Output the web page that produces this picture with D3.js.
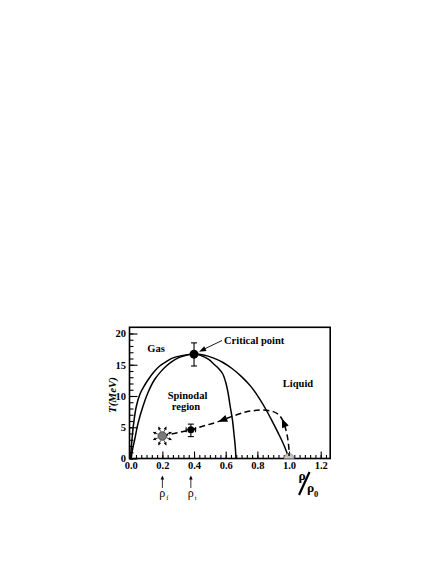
<!DOCTYPE html>
<html><head><meta charset="utf-8">
<script src="https://cdn.jsdelivr.net/npm/d3@7"></script>
<style>
html,body{margin:0;padding:0;background:#fff;}
svg text{font-family:"Liberation Serif","Times New Roman",serif;}
</style></head>
<body>
<svg id="chart" width="442" height="571"></svg>
<script>
// ---- data ----
const binodal = [[0,0],[0.003,1.5],[0.008,3],[0.018,5.5],[0.036,8.4],[0.06,10.4],[0.09,11.8],[0.11,12.6],[0.145,13.8],[0.183,14.8],[0.225,15.5],[0.267,16.1],[0.33,16.5],[0.4,16.7],[0.46,16.55],[0.52,16.1],[0.58,15.4],[0.64,14.4],[0.7,13.1],[0.76,11.5],[0.81,9.7],[0.855,7.8],[0.895,5.9],[0.935,3.9],[0.97,2.0],[1.0,0]];
const spinodal = [[0.003,0],[0.012,1.5],[0.025,3],[0.045,5.5],[0.078,8.4],[0.11,10.6],[0.15,12.6],[0.19,13.9],[0.225,14.8],[0.26,15.5],[0.3,16.1],[0.35,16.5],[0.4,16.7],[0.44,16.5],[0.49,15.9],[0.53,15.0],[0.555,14.4],[0.58,13.6],[0.6,12.2],[0.615,10.5],[0.628,8.4],[0.642,6.3],[0.652,4],[0.66,2],[0.665,0]];
const trajectory = [[0.2,3.6],[0.38,4.6],[0.46,5.2],[0.553,5.9],[0.648,6.8],[0.72,7.4],[0.775,7.65],[0.84,7.75],[0.9,7.5],[0.935,7.0],[0.96,6.1],[0.98,4.6],[0.993,3],[1.0,1.2],[1.0,0.4]];
const trajectoryArrows = [[0.553,5.9,0.6,6.35],[0.955,6.4,0.965,5.8]]; // tip x,T then a point behind it
const criticalPoint = {x:0.4, T:16.7, Tlo:14.8, Thi:18.5};
const breakupPoint = {x:0.38, T:4.6, xlo:0.35, xhi:0.41, Tlo:3.5, Thi:5.5};
const freezeOut = {x:0.2, T:3.6};
const groundState = {x:1.0, T:0};
const xTicks = [0,0.2,0.4,0.6,0.8,1.0,1.2];
const xTickLabels = ["0.0","0.2","0.4","0.6","0.8","1.0","1.2"];
const yTicks = [0,5,10,15,20];
const yTickLabels = ["0","5","10","15","20"];
const densityMarks = [{x:0.2, sub:"f"},{x:0.38, sub:"t"}];

// ---- scales ----
const x = d3.scaleLinear().domain([0,1.2]).range([130.7,320.7]);
const y = d3.scaleLinear().domain([0,20]).range([458.5,333.5]);
const L = x(-0.0076), R = x(1.26), T = 327.3, B = y(0);

const svg = d3.select("#chart");
const g = svg.append("g");

// minor ticks
const xMinor = d3.range(0, 1.26, 0.2/6);
g.append("g").attr("transform",`translate(0,${B})`)
  .call(d3.axisBottom(x).tickValues(xMinor).tickSize(-3.5).tickFormat(""))
  .call(s=>s.select(".domain").remove());
g.append("g").attr("transform",`translate(${L},0)`)
  .call(d3.axisLeft(y).tickValues(d3.range(0,21,1)).tickSize(-4).tickFormat(""))
  .call(s=>s.select(".domain").remove());
// major ticks
g.append("g").attr("transform",`translate(0,${B})`)
  .call(d3.axisBottom(x).tickValues(xTicks).tickSize(-7).tickPadding(3.5)
    .tickFormat((d,i)=>xTickLabels[i]))
  .call(s=>s.select(".domain").remove())
  .call(s=>s.selectAll("text").attr("font-family","Liberation Serif").attr("font-weight","bold").attr("font-size",10.5).attr("fill","#000"));
g.append("g").attr("transform",`translate(${L},0)`)
  .call(d3.axisLeft(y).tickValues(yTicks).tickSize(-8).tickPadding(3.5)
    .tickFormat((d,i)=>yTickLabels[i]))
  .call(s=>s.select(".domain").remove())
  .call(s=>s.selectAll("text").attr("font-family","Liberation Serif").attr("font-weight","bold").attr("font-size",10.5).attr("fill","#000"));
g.selectAll(".tick line").attr("stroke","#000").attr("stroke-width",1.1);

// frame
g.append("rect").attr("x",L).attr("y",T).attr("width",R-L).attr("height",B-T)
  .attr("fill","none").attr("stroke","#000").attr("stroke-width",1.6);

const line = d3.line().x(d=>x(d[0])).y(d=>y(d[1])).curve(d3.curveCatmullRom.alpha(0.5));

g.append("path").attr("d",line(binodal)).attr("fill","none").attr("stroke","#000").attr("stroke-width",1.5);
g.append("path").attr("d",line(spinodal)).attr("fill","none").attr("stroke","#000").attr("stroke-width",1.5);

// ground state half disc
const gr = 5;
g.append("path")
  .attr("d",`M${x(groundState.x)-gr},${y(groundState.T)} A${gr},${gr} 0 0 1 ${x(groundState.x)+gr},${y(groundState.T)} Z`)
  .attr("fill","#c4c4c4").attr("stroke","#888").attr("stroke-width",0.8);

// trajectory dashed
g.append("path").attr("d",line(trajectory)).attr("fill","none").attr("stroke","#000")
  .attr("stroke-width",1.5).attr("stroke-dasharray","6,3.5");

// arrowheads
function arrowHead(px,py,bx,by,len,hw){
  const a = Math.atan2(py-by, px-bx);
  const c=Math.cos(a), s=Math.sin(a);
  const p1=[px-len*c+hw*s, py-len*s-hw*c], p2=[px-len*c-hw*s, py-len*s+hw*c];
  return `M${px},${py}L${p1[0]},${p1[1]}L${p2[0]},${p2[1]}Z`;
}
trajectoryArrows.forEach(a=>{
  g.append("path").attr("d",arrowHead(x(a[0]),y(a[1]),x(a[2]),y(a[3]),9,3.6)).attr("fill","#000");
});

// critical point with error bar
const cx=x(criticalPoint.x), cy=y(criticalPoint.T);
g.append("line").attr("x1",cx).attr("x2",cx).attr("y1",y(criticalPoint.Tlo)).attr("y2",y(criticalPoint.Thi)).attr("stroke","#000").attr("stroke-width",1.1);
[criticalPoint.Tlo,criticalPoint.Thi].forEach(v=>g.append("line").attr("x1",cx-3).attr("x2",cx+3).attr("y1",y(v)).attr("y2",y(v)).attr("stroke","#000").attr("stroke-width",1.1));
g.append("circle").attr("cx",cx).attr("cy",cy).attr("r",4.5).attr("fill","#000");

// breakup point with error bars
const bx=x(breakupPoint.x), by=y(breakupPoint.T);
g.append("line").attr("x1",bx).attr("x2",bx).attr("y1",y(breakupPoint.Tlo)).attr("y2",y(breakupPoint.Thi)).attr("stroke","#000").attr("stroke-width",1.1);
[breakupPoint.Tlo,breakupPoint.Thi].forEach(v=>g.append("line").attr("x1",bx-3).attr("x2",bx+3).attr("y1",y(v)).attr("y2",y(v)).attr("stroke","#000").attr("stroke-width",1.1));
g.append("line").attr("x1",x(breakupPoint.xlo)).attr("x2",x(breakupPoint.xhi)).attr("y1",by).attr("y2",by).attr("stroke","#000").attr("stroke-width",1.1);
[breakupPoint.xlo,breakupPoint.xhi].forEach(v=>g.append("line").attr("x1",x(v)).attr("x2",x(v)).attr("y1",by-2.5).attr("y2",by+2.5).attr("stroke","#000").attr("stroke-width",1.1));
g.append("circle").attr("cx",bx).attr("cy",by).attr("r",3.5).attr("fill","#000");

// freeze-out star: gray disc with radiating arrows
const sx=x(freezeOut.x), sy=y(freezeOut.T);
d3.range(8).forEach(i=>{
  const a = i*Math.PI/4 + Math.PI/8;
  const x1=sx+5*Math.cos(a), y1=sy+5*Math.sin(a), x2=sx+10*Math.cos(a), y2=sy+10*Math.sin(a);
  g.append("line").attr("x1",x1).attr("y1",y1).attr("x2",x2).attr("y2",y2).attr("stroke","#000").attr("stroke-width",0.8);
  g.append("path").attr("d",arrowHead(x2,y2,x1,y1,2.8,1.6)).attr("fill","#000");
});
g.append("circle").attr("cx",sx).attr("cy",sy).attr("r",4.3).attr("fill","#7a7a7a").attr("stroke","#333").attr("stroke-width",0.8);

// labels
const lab = (t,px,py,anchor,size)=>g.append("text").attr("x",px).attr("y",py).attr("text-anchor",anchor||"middle")
    .attr("font-size",size||10.5).attr("font-weight","bold").attr("fill","#000").text(t);
lab("Gas",156,351.5);
lab("Critical point",224,344,"start");
lab("Liquid",298,387);
lab("Spinodal",187.5,398.5);
lab("region",186,409.5);

// critical point pointer arrow
g.append("line").attr("x1",222).attr("y1",340.5).attr("x2",cx+9).attr("y2",cy-4.5).attr("stroke","#000").attr("stroke-width",0.9);
g.append("path").attr("d",arrowHead(cx+5,cy-2.5,222,340.5,7,2.6)).attr("fill","#000");

// y axis title
g.append("text").attr("transform","translate(116,395) rotate(-90)").attr("text-anchor","middle")
  .attr("font-size",11).attr("font-weight","bold").attr("font-style","italic").text("T(MeV)");

// rho / rho0
g.append("text").attr("x",302).attr("y",480).attr("text-anchor","middle").attr("font-size",13.5).attr("font-weight","bold").text("ρ");
g.append("line").attr("x1",299).attr("y1",495).attr("x2",309.5).attr("y2",472).attr("stroke","#000").attr("stroke-width",2.2);
g.append("text").attr("x",310.5).attr("y",491.5).attr("text-anchor","middle").attr("font-size",13.5).attr("font-weight","bold").text("ρ");
g.append("text").attr("x",314).attr("y",496.5).attr("text-anchor","start").attr("font-size",8.5).attr("font-weight","bold").text("0");

// density markers below axis
densityMarks.forEach(d=>{
  const px=x(d.x);
  g.append("line").attr("x1",px).attr("x2",px).attr("y1",488).attr("y2",478).attr("stroke","#000").attr("stroke-width",0.8);
  g.append("path").attr("d",arrowHead(px,475.5,px,488,4,1.8)).attr("fill","#000");
  g.append("text").attr("x",px).attr("y",497).attr("text-anchor","middle").attr("font-size",12).text("ρ");
  g.append("text").attr("x",px+3.8).attr("y",500).attr("text-anchor","start").attr("font-size",6.5).text(d.sub);
});
</script>
</body></html>
